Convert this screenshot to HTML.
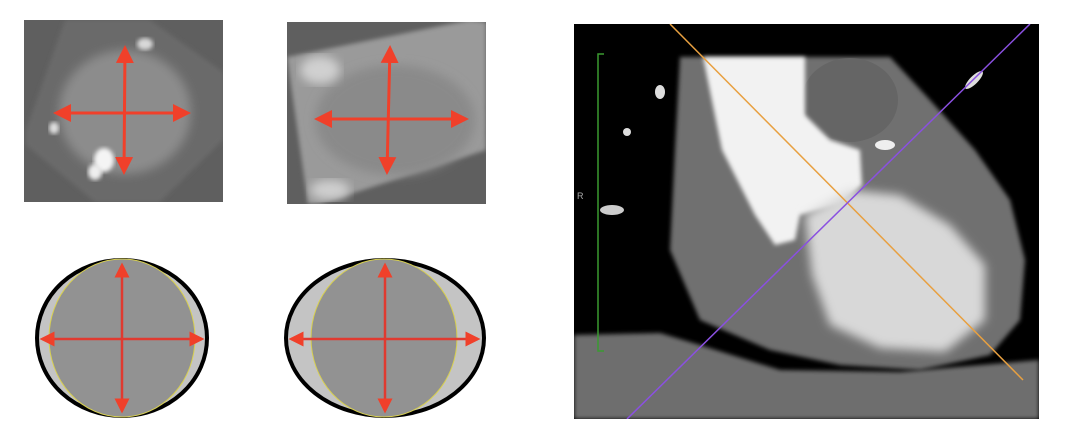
<!DOCTYPE html>
<html><head><meta charset="utf-8"><style>
html,body{margin:0;padding:0;background:#fff;width:1070px;height:445px;overflow:hidden}
svg{display:block}
</style></head><body>
<svg width="1070" height="445" viewBox="0 0 1070 445">
<defs>
<marker id="ah" markerWidth="6" markerHeight="6" refX="5" refY="3" orient="auto-start-reverse" markerUnits="strokeWidth">
<path d="M0,0 L6,3 L0,6 z" fill="#f0402a"/></marker>
<filter id="blur2"><feGaussianBlur stdDeviation="2"/></filter>
<filter id="blur4"><feGaussianBlur stdDeviation="5"/></filter>
<clipPath id="c1"><rect x="24" y="20" width="199" height="182"/></clipPath>
<clipPath id="c2"><rect x="287" y="22" width="199" height="182"/></clipPath>
<clipPath id="c3"><rect x="574" y="24" width="465" height="395"/></clipPath>
</defs>

<g clip-path="url(#c1)">
<rect x="24" y="20" width="199" height="182" fill="#5f5f5f"/>
<polygon points="65,20 150,20 223,72 223,140 160,202 95,202 26,145 26,130" fill="#6a6a6a" filter="url(#blur2)"/>
<ellipse cx="125" cy="112" rx="66" ry="62" fill="#8c8c8c" filter="url(#blur4)"/>
<ellipse cx="104" cy="160" rx="10" ry="12" fill="#f4f4f4" filter="url(#blur2)"/>
<ellipse cx="95" cy="172" rx="7" ry="8" fill="#eee" filter="url(#blur2)"/>
<ellipse cx="54" cy="128" rx="5" ry="6" fill="#e0e0e0" filter="url(#blur2)"/>
<ellipse cx="145" cy="44" rx="8" ry="6" fill="#d8d8d8" filter="url(#blur2)"/>
<line x1="56" y1="113" x2="188" y2="113" stroke="#f0402a" stroke-width="3" marker-start="url(#ah)" marker-end="url(#ah)"/>
<line x1="125" y1="48" x2="124" y2="172" stroke="#f0402a" stroke-width="3" marker-start="url(#ah)" marker-end="url(#ah)"/>
</g>

<g clip-path="url(#c2)">
<rect x="287" y="22" width="199" height="182" fill="#5f5f5f"/>
<polygon points="287,57 470,20 486,22 486,150 320,204 308,204" fill="#9a9a9a" filter="url(#blur2)"/>
<ellipse cx="395" cy="120" rx="80" ry="55" fill="#8a8a8a" filter="url(#blur4)"/>
<ellipse cx="320" cy="70" rx="20" ry="14" fill="#d0d0d0" filter="url(#blur4)"/>
<ellipse cx="330" cy="190" rx="20" ry="10" fill="#cfcfcf" filter="url(#blur4)"/>
<line x1="317" y1="119" x2="466" y2="119" stroke="#f0402a" stroke-width="3" marker-start="url(#ah)" marker-end="url(#ah)"/>
<line x1="390" y1="48" x2="387" y2="172" stroke="#f0402a" stroke-width="3" marker-start="url(#ah)" marker-end="url(#ah)"/>
</g>

<g>
<ellipse cx="122" cy="338" rx="85" ry="78" fill="#c4c4c4" stroke="#000" stroke-width="4"/>
<ellipse cx="122" cy="338" rx="73" ry="79" fill="#929292" stroke="#d8d050" stroke-width="1"/>
<line x1="42" y1="339" x2="202" y2="339" stroke="#e03a30" stroke-width="2.5" marker-start="url(#ah)" marker-end="url(#ah)"/>
<line x1="122" y1="265" x2="122" y2="411" stroke="#e03a30" stroke-width="2.5" marker-start="url(#ah)" marker-end="url(#ah)"/>
</g>

<g>
<ellipse cx="385" cy="338" rx="99" ry="78" fill="#c4c4c4" stroke="#000" stroke-width="4"/>
<ellipse cx="384" cy="338" rx="73" ry="79" fill="#929292" stroke="#d8d050" stroke-width="1"/>
<line x1="291" y1="339" x2="478" y2="339" stroke="#e03a30" stroke-width="2.5" marker-start="url(#ah)" marker-end="url(#ah)"/>
<line x1="385" y1="265" x2="385" y2="411" stroke="#e03a30" stroke-width="2.5" marker-start="url(#ah)" marker-end="url(#ah)"/>
</g>

<g clip-path="url(#c3)">
<rect x="574" y="24" width="465" height="395" fill="#000"/>
<path d="M574,335 L660,333 L700,345 L780,370 L900,372 L1039,360 L1039,419 L574,419 Z" fill="#6e6e6e" filter="url(#blur2)"/>
<path d="M680,57 L890,57 L930,100 L975,150 L1010,200 L1025,260 L1020,320 L990,355 L920,370 L840,365 L770,350 L700,320 L670,250 L675,150 Z" fill="#707070" filter="url(#blur2)"/>
<ellipse cx="850" cy="100" rx="48" ry="42" fill="#656565"/>
<path d="M703,57 L805,57 L805,115 L830,140 L860,150 L862,185 L840,205 L800,215 L795,240 L775,245 L755,215 L722,150 Z" fill="#f2f2f2" filter="url(#blur2)"/>
<path d="M805,215 L850,190 L900,195 L950,225 L985,265 L985,320 L945,352 L880,348 L830,325 L812,275 Z" fill="#d8d8d8" filter="url(#blur4)"/>
<ellipse cx="885" cy="145" rx="10" ry="5" fill="#eee"/>
<ellipse cx="660" cy="92" rx="5" ry="7" fill="#ddd"/>
<ellipse cx="627" cy="132" rx="4" ry="4" fill="#ddd"/>
<ellipse cx="612" cy="210" rx="12" ry="5" fill="#ccc"/>
<ellipse cx="974" cy="80" rx="4" ry="12" transform="rotate(45 974 80)" fill="#ddd"/>
<line x1="670" y1="24" x2="1023" y2="380" stroke="#e8a040" stroke-width="1.5"/>
<line x1="1030" y1="24" x2="627" y2="419" stroke="#8a50e0" stroke-width="1.5"/>
<path d="M604,54 L598,54 L598,351 L604,351" fill="none" stroke="#3a9a30" stroke-width="1.5"/>
<text x="577" y="199" fill="#aaa" font-family="Liberation Sans, sans-serif" font-size="9">R</text>
</g>
</svg>
</body></html>
